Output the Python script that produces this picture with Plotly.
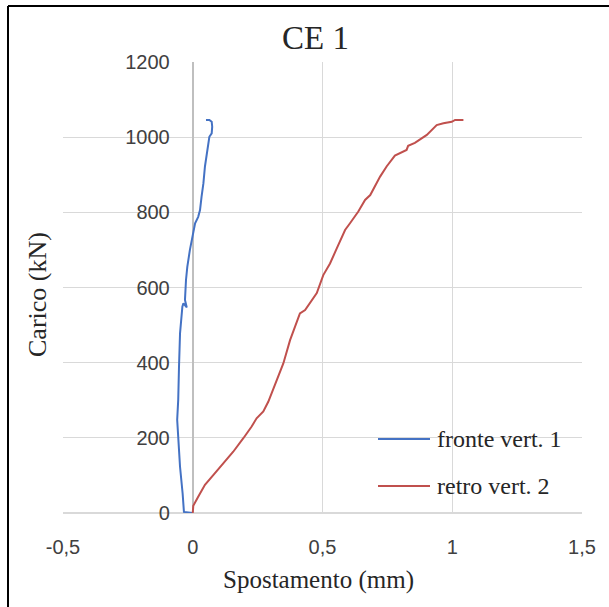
import plotly.graph_objects as go

# ---- data ----
front_x = [0.0, -0.034, -0.039, -0.049, -0.060, -0.056, -0.053, -0.049, -0.040, -0.036, -0.023, -0.030,
           -0.026, -0.021, -0.011, 0.000, 0.009, 0.021, 0.028, 0.034, 0.041, 0.047, 0.054, 0.060,
           0.064, 0.073, 0.075, 0.073, 0.064, 0.051]
front_y = [0, 3, 52, 123, 248, 301, 389, 478, 549, 558, 547, 567,
           620, 655, 700, 744, 771, 788, 806, 842, 877, 922, 957, 993,
           1001, 1010, 1028, 1041, 1046, 1046]

retro_x = [0.000, 0.002, 0.021, 0.047, 0.079, 0.118, 0.156, 0.195, 0.227, 0.246, 0.272, 0.291,
           0.323, 0.349, 0.375, 0.394, 0.413, 0.433, 0.452, 0.478, 0.503, 0.529, 0.555, 0.587,
           0.606, 0.638, 0.664, 0.684, 0.722, 0.747, 0.779, 0.799, 0.824, 0.830, 0.856, 0.902,
           0.940, 0.966, 0.998, 1.011, 1.043]
retro_y = [0, 19, 43, 75, 101, 132, 163, 199, 230, 252, 270, 296,
           354, 398, 460, 496, 531, 540, 558, 585, 633, 664, 704, 753,
           771, 802, 833, 846, 895, 922, 951, 957, 966, 977, 985, 1006,
           1032, 1037, 1041, 1046, 1046]

series_names = ["fronte vert. 1", "retro vert. 2"]
series_colors = ["#4472C4", "#C0504D"]

x_tickvals = [-0.5, 0, 0.5, 1, 1.5]
x_ticktext = ["-0,5", "0", "0,5", "1", "1,5"]
y_tickvals = [0, 200, 400, 600, 800, 1000, 1200]
y_ticktext = ["0", "200", "400", "600", "800", "1000", "1200"]

title_text = "CE 1"
x_title = "Spostamento (mm)"
y_title = "Carico (kN)"

# ---- figure ----
W, H = 609, 607
L, R, T, B = 63, 27, 62, 94
pw, ph = W - L - R, H - T - B

def px(xp):
    return (xp - L) / pw

def py(yp):
    return (H - B - yp) / ph

SERIF = "Liberation Serif, Times New Roman, serif"
SANS = "Liberation Sans, Arial, sans-serif"

fig = go.Figure()
for xs, ys, name, col in [(front_x, front_y, series_names[0], series_colors[0]),
                          (retro_x, retro_y, series_names[1], series_colors[1])]:
    fig.add_trace(go.Scatter(x=xs, y=ys, mode="lines", name=name,
                             line=dict(color=col, width=2), showlegend=False))

fig.update_layout(
    width=W, height=H,
    margin=dict(l=L, r=R, t=T, b=B),
    paper_bgcolor="white", plot_bgcolor="white",
    xaxis=dict(range=[-0.5, 1.5], tickvals=x_tickvals, ticktext=x_ticktext,
               showgrid=True, gridcolor="#d9d9d9", gridwidth=1,
               zeroline=True, zerolinecolor="#bfbfbf", zerolinewidth=1.5,
               showline=False, ticks="", ticklabelstandoff=20,
               tickfont=dict(family=SANS, size=20, color="#404040")),
    yaxis=dict(range=[0, 1200], tickvals=y_tickvals, ticktext=y_ticktext,
               showgrid=True, gridcolor="#d9d9d9", gridwidth=1,
               zeroline=True, zerolinecolor="#d9d9d9", zerolinewidth=1.5,
               anchor="free", position=0.25, showline=False, ticks="",
               ticklabelstandoff=23,
               tickfont=dict(family=SANS, size=20, color="#404040")),
)

# titles as annotations
fig.add_annotation(text=title_text, x=px(315), y=py(38), xref="paper", yref="paper",
                   showarrow=False, font=dict(family=SERIF, size=33, color="#262626"),
                   xanchor="center", yanchor="middle")
fig.add_annotation(text=x_title, x=px(318), y=py(580), xref="paper", yref="paper",
                   showarrow=False, font=dict(family=SERIF, size=25, color="#262626"),
                   xanchor="center", yanchor="middle")
fig.add_annotation(text=y_title, x=px(37), y=py(295), xref="paper", yref="paper",
                   showarrow=False, textangle=-90,
                   font=dict(family=SERIF, size=26, color="#262626"),
                   xanchor="center", yanchor="middle")

# manual legend
for i, (name, col) in enumerate(zip(series_names, series_colors)):
    yy = py(439 + i * 47)
    fig.add_shape(type="line", xref="paper", yref="paper", x0=px(378), x1=px(430),
                  y0=yy, y1=yy, line=dict(color=col, width=2))
    fig.add_annotation(text=name, x=px(435), y=yy, xref="paper", yref="paper",
                       showarrow=False, xanchor="left", yanchor="middle",
                       font=dict(family=SERIF, size=24, color="#262626"))

# outer frame (only left and top edges visible in the reference)
fig.add_shape(type="line", xref="paper", yref="paper", x0=px(8), x1=px(8),
              y0=py(6), y1=py(620), line=dict(color="black", width=2))
fig.add_shape(type="line", xref="paper", yref="paper", x0=px(8), x1=px(620),
              y0=py(6), y1=py(6), line=dict(color="black", width=2))

fig.write_html("out.html")
